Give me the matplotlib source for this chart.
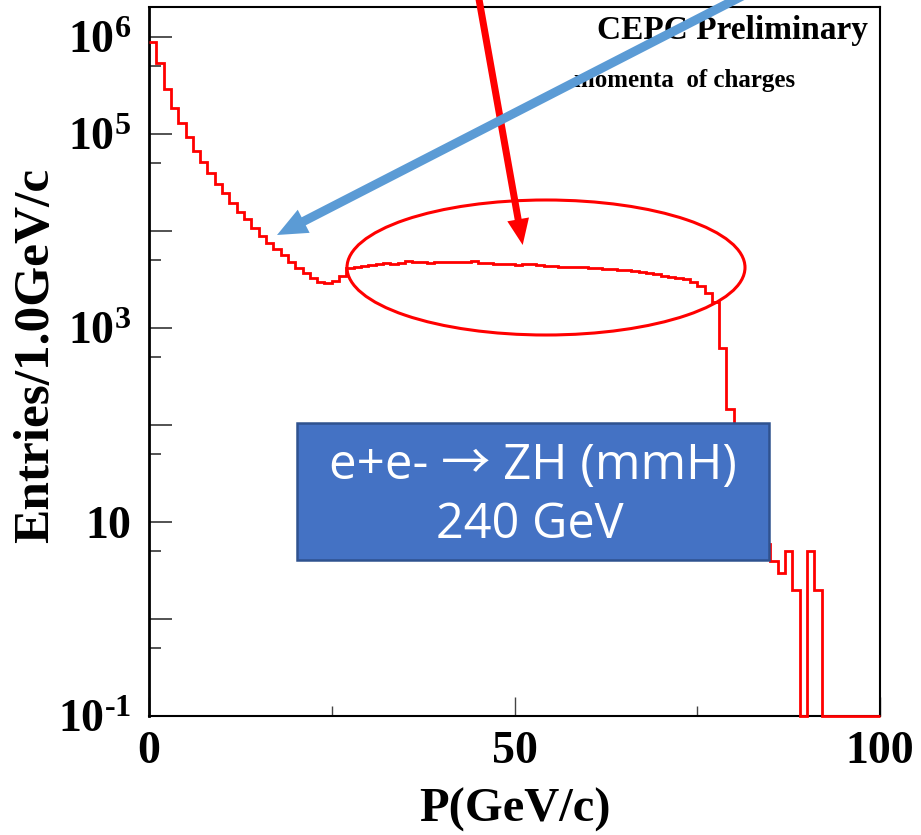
import numpy as np
import matplotlib
matplotlib.use("Agg")
import matplotlib.pyplot as plt
from matplotlib.patches import Ellipse, Rectangle, FancyArrow
from matplotlib.ticker import FixedLocator, FixedFormatter, NullFormatter

# ---------------- data ----------------
bin_edges = np.arange(0, 101, 1)          # P (GeV/c), 1 GeV/c bins
counts = [
    8.9e5, 5.4e5, 2.9e5, 1.85e5, 1.3e5, 9.4e4, 6.7e4, 5.1e4, 3.95e4, 3.05e4,
    2.45e4, 1.96e4, 1.58e4, 1.32e4, 1.07e4, 8.9e3, 7.45e3, 6.5e3, 5.65e3, 4.83e3,
    4.2e3, 3.7e3, 3.3e3, 2.95e3, 2.9e3, 3.02e3, 3.45e3, 4.15e3, 4.30e3, 4.40e3,
    4.50e3, 4.60e3, 4.65e3, 4.62e3, 4.70e3, 4.90e3, 4.75e3, 4.78e3, 4.72e3, 4.74e3,
    4.80e3, 4.85e3, 4.75e3, 4.80e3, 4.88e3, 4.70e3, 4.65e3, 4.58e3, 4.62e3, 4.58e3,
    4.50e3, 4.55e3, 4.52e3, 4.45e3, 4.40e3, 4.32e3, 4.30e3, 4.28e3, 4.30e3, 4.25e3,
    4.18e3, 4.15e3, 4.10e3, 4.05e3, 3.98e3, 3.92e3, 3.85e3, 3.78e3, 3.70e3, 3.60e3,
    3.45e3, 3.38e3, 3.30e3, 3.22e3, 2.95e3, 2.70e3, 2.30e3, 1.85e3, 6.2e2, 1.45e2,
    60, 28, 14, 9, 6, 4, 3, 5, 2, 0,
    5, 2, 0, 0, 0, 0, 0, 0, 0, 0,
]
x_major = [0, 50, 100]
x_minor = [25, 75]
x_tick_labels = ["0", "50", "100"]
y_major = [1e-1, 1e0, 1e1, 1e2, 1e3, 1e4, 1e5, 1e6]
y_tick_labels = ["$10^{\u20101}$", "", r"$10$", "", r"$10^{3}$", "", r"$10^{5}$", r"$10^{6}$"]
y_minor = [0.5, 5, 50, 500, 5e3, 5e4, 5e5]
y_min, y_max = 0.1, 2.04e6
x_label = "P(GeV/c)"
y_label = "Entries/1.0GeV/c"
title_text = "CEPC Preliminary"
subtitle_text = "momenta  of charges"
box_lines = ["e+e- \u2192 ZH (mmH)", "240 GeV"]

# ---------------- style ----------------
plt.rcParams["mathtext.fontset"] = "custom"
plt.rcParams["mathtext.rm"] = "Liberation Serif:bold"
plt.rcParams["mathtext.bf"] = "Liberation Serif:bold"
plt.rcParams["mathtext.it"] = "Liberation Serif:bold:italic"
serif = "Liberation Serif"

W, H = 921, 835
fig = plt.figure(figsize=(W / 100, H / 100), dpi=100)
ax = fig.add_axes([149 / W, 1 - 716 / H, (880 - 149) / W, (716 - 7) / H])

ax.stairs(np.maximum(np.asarray(counts, float), y_min), bin_edges,
          color="red", lw=2, baseline=None, zorder=3, clip_on=False)

ax.set_yscale("log")
ax.set_xlim(0, 100)
ax.set_ylim(y_min, y_max)

ax.xaxis.set_major_locator(FixedLocator(x_major))
ax.xaxis.set_major_formatter(FixedFormatter(x_tick_labels))
ax.xaxis.set_minor_locator(FixedLocator(x_minor))
ax.xaxis.set_minor_formatter(NullFormatter())
ax.yaxis.set_major_locator(FixedLocator(y_major))
ax.yaxis.set_major_formatter(FixedFormatter(y_tick_labels))
ax.yaxis.set_minor_locator(FixedLocator(y_minor))
ax.yaxis.set_minor_formatter(NullFormatter())

ax.tick_params(axis="y", which="major", direction="in", length=16.5, width=1.3,
               color="#444444", pad=13, labelsize=33)
ax.tick_params(axis="y", which="minor", direction="in", length=8.5, width=1.3,
               color="#444444")
ax.tick_params(axis="x", which="major", direction="in", length=14, width=1.0,
               color="#444444", pad=11, labelsize=33)
ax.tick_params(axis="x", which="minor", direction="in", length=7, width=1.0,
               color="#444444")
for lab in ax.get_xticklabels() + ax.get_yticklabels():
    lab.set_fontfamily(serif)
    lab.set_fontweight("bold")

for s in ax.spines.values():
    s.set_linewidth(1.5)
ax.spines["left"].set_linewidth(2)

ax.set_xlabel(x_label, fontsize=35, fontweight="bold", family=serif, va="center")
ax.xaxis.set_label_coords((515 - 149) / 731, (716 - 810) / 709)
ax.set_ylabel(y_label, fontsize=37, fontweight="bold", family=serif, va="center")
ax.yaxis.set_label_coords((36 - 149) / 731, (716 - 355) / 709)

# ---------------- overlay annotations (figure pixel space) ----------------
ov = fig.add_axes([0, 0, 1, 1], zorder=5)
ov.set_xlim(0, W)
ov.set_ylim(H, 0)
ov.axis("off")

ov.text(868, 30, title_text, ha="right", va="center", fontsize=24,
        fontweight="bold", family=serif, zorder=1)
ov.text(574, 81, subtitle_text, ha="left", va="center", fontsize=18,
        fontweight="bold", family=serif, zorder=1)

ov.add_patch(Ellipse((546, 267.5), 398, 135, fill=False, edgecolor="red",
                     lw=2.2, zorder=2))

ov.add_patch(Rectangle((297, 423), 472, 137, facecolor="#4472C4",
                       edgecolor="#2F528F", lw=1.8, zorder=3))
box_font = ["Open Sans", "Noto Sans CJK SC", "DejaVu Sans"]
ov.text(532.5, 479, box_lines[0], ha="center", va="baseline", fontsize=35.5,
        color="white", family=box_font, zorder=4)
ov.text(530, 538, box_lines[1], ha="center", va="baseline", fontsize=35,
        color="white", family=box_font, zorder=4)

# red arrow
ov.add_patch(FancyArrow(477, -12, 522.7 - 477, 245 + 12, width=7,
                        head_width=22, head_length=26,
                        length_includes_head=True, color="#FF0000", lw=0,
                        zorder=5))
# blue arrow
ov.add_patch(FancyArrow(754, -10, 277 - 754, 235 + 10, width=9,
                        head_width=26, head_length=30,
                        length_includes_head=True, color="#5B9BD5", lw=0,
                        zorder=6))

fig.savefig("out.png", dpi=100)
